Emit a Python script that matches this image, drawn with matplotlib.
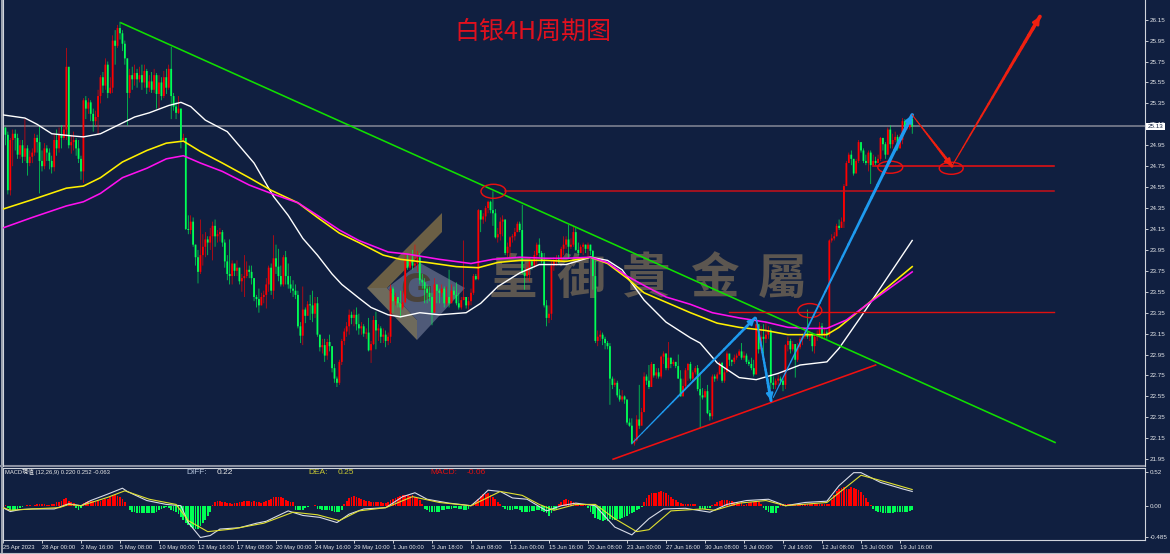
import matplotlib
matplotlib.use('Agg')
import matplotlib.pyplot as plt
from matplotlib.collections import LineCollection
from matplotlib.patches import Ellipse, Polygon

# 4H 收盘 / 最高 / 最低,每行 10 根
closes = [
    25.12,25.05,24.52,25.00,25.06,25.02,24.86,24.95,24.84,24.92,
    24.78,24.84,24.88,25.02,24.98,24.80,24.75,24.92,24.88,24.80,
    24.74,25.00,24.92,25.05,25.02,25.10,25.70,24.95,24.98,25.00,
    24.92,24.82,24.70,25.38,25.30,25.36,25.25,25.18,25.22,25.42,
    25.60,25.52,25.72,25.45,25.50,25.95,25.90,26.07,26.02,25.92,
    25.78,25.45,25.62,25.58,25.64,25.58,25.62,25.55,25.66,25.50,
    25.56,25.48,25.62,25.44,25.55,25.42,25.60,25.50,25.68,25.42,
    25.32,25.26,25.30,25.00,25.02,24.15,24.14,24.22,24.00,23.88,
    23.74,23.90,23.98,24.05,24.02,24.08,24.18,24.08,24.10,24.12,
    24.02,23.84,23.72,23.70,23.82,23.75,23.78,23.65,23.68,23.70,
    23.76,23.74,23.68,23.50,23.48,23.42,23.50,23.52,23.62,23.78,
    23.56,23.87,23.79,23.70,23.62,23.88,23.70,23.62,23.58,23.56,
    23.52,23.22,23.13,23.38,23.32,23.43,23.42,23.34,23.44,23.14,
    23.02,23.04,22.94,23.07,23.03,22.82,22.72,22.68,22.88,23.08,
    23.17,23.22,23.33,23.30,23.33,23.24,23.20,23.22,23.15,23.16,
    22.99,23.05,23.28,23.18,23.20,23.12,23.14,23.08,23.12,23.58,
    23.46,23.50,23.44,23.40,23.45,23.86,23.78,23.86,23.80,23.82,
    23.88,23.66,23.64,23.58,23.54,23.50,23.35,23.62,23.56,23.54,
    23.58,23.44,23.50,23.44,23.56,23.52,23.44,23.40,23.47,23.50,
    23.42,23.46,23.54,23.70,23.67,24.33,24.24,24.27,24.35,24.41,
    24.33,24.30,24.07,24.10,24.22,24.24,23.92,23.98,24.07,24.08,
    24.12,24.20,24.14,23.73,23.70,23.78,23.84,23.80,23.90,24.00,
    23.92,23.84,23.42,23.30,23.34,23.80,23.84,23.86,23.84,23.96,
    24.00,24.05,23.98,24.00,24.12,23.95,23.92,23.98,24.00,23.96,
    24.00,23.94,23.70,23.08,23.12,23.14,23.10,23.06,23.03,22.72,
    22.66,22.68,22.56,22.52,22.55,22.52,22.30,22.27,22.10,22.13,
    22.33,22.27,22.40,22.74,22.70,22.64,22.86,22.75,22.78,22.74,
    22.93,22.96,22.82,22.92,22.86,22.88,22.84,22.72,22.55,22.65,
    22.80,22.86,22.72,22.78,22.82,22.62,22.56,22.54,22.60,22.39,
    22.36,22.74,22.72,22.76,22.87,22.70,22.78,22.96,22.90,22.88,
    22.92,22.94,22.98,22.92,22.94,22.88,22.86,22.82,22.76,23.24,
    23.00,23.12,23.10,23.14,23.18,22.68,22.66,22.70,22.72,22.70,
    22.66,23.04,23.08,23.00,23.05,22.90,23.02,23.10,23.12,23.16,
    23.12,23.14,23.03,23.12,23.14,23.22,23.14,23.16,23.14,24.04,
    24.06,24.08,24.18,24.16,24.22,24.56,24.78,24.86,24.82,24.68,
    24.80,24.98,24.90,24.80,24.78,24.88,24.76,24.80,24.78,24.82,
    25.02,24.96,24.86,25.10,24.96,25.00,25.03,24.92,25.00,25.18,
    25.12,25.12,25.20,25.13,
]
highs = [
    25.35,25.12,25.08,25.02,25.10,25.10,25.06,25.00,25.00,25.20,
    24.95,24.90,24.92,25.06,25.05,25.13,24.90,24.97,24.95,24.92,
    24.85,25.05,25.10,25.12,25.14,25.14,25.88,25.62,25.05,25.08,
    25.02,25.00,24.85,25.40,25.42,25.40,25.38,25.30,25.28,25.48,
    25.62,25.65,25.78,25.75,25.60,26.00,26.05,26.10,26.13,26.05,
    25.95,25.78,25.68,25.70,25.72,25.68,25.70,25.72,25.72,25.68,
    25.62,25.65,25.68,25.64,25.62,25.60,25.66,25.68,25.72,25.89,
    25.45,25.36,25.42,25.30,25.06,25.02,24.28,24.28,24.26,24.00,
    23.95,24.24,24.10,24.12,24.08,24.16,24.22,24.24,24.14,24.16,
    24.14,24.05,23.90,24.05,23.85,23.80,23.85,23.78,23.72,23.90,
    23.84,23.80,23.80,23.68,23.52,23.58,23.54,23.56,23.68,23.80,
    23.82,24.09,24.00,23.96,23.80,23.90,23.94,23.82,23.70,23.66,
    23.62,23.56,23.26,23.60,23.40,23.46,23.52,23.56,23.50,23.50,
    23.14,23.10,23.10,23.10,23.14,23.03,22.86,22.74,22.90,23.10,
    23.20,23.26,23.38,23.36,23.38,23.40,23.34,23.26,23.24,23.20,
    23.30,23.08,23.32,23.36,23.24,23.22,23.20,23.18,23.16,23.62,
    23.60,23.54,23.50,23.56,23.56,23.92,23.90,23.92,23.95,24.00,
    23.94,23.92,23.72,23.68,23.62,23.60,23.54,23.68,23.62,23.58,
    23.62,23.60,23.60,23.76,23.62,23.60,23.64,23.54,23.50,24.04,
    23.50,23.50,23.58,23.72,23.72,24.34,24.28,24.30,24.37,24.42,
    24.42,24.51,24.34,24.16,24.26,24.28,24.24,24.02,24.08,24.10,
    24.16,24.22,24.22,24.38,23.76,23.82,23.86,23.86,23.94,24.02,
    24.06,23.94,23.92,23.47,23.42,23.84,23.88,23.90,23.90,23.98,
    24.08,24.08,24.19,24.06,24.18,24.16,24.02,24.00,24.02,24.00,
    24.02,24.00,23.95,23.85,23.18,23.18,23.16,23.12,23.08,23.06,
    22.74,22.72,22.70,22.62,22.61,22.56,22.52,22.34,22.34,22.15,
    22.37,22.66,22.44,22.78,22.76,22.85,22.88,22.82,22.82,22.82,
    22.94,22.98,22.96,23.07,22.92,22.90,22.88,22.95,22.80,22.72,
    22.82,22.87,22.88,22.80,22.84,22.85,22.78,22.63,22.62,22.66,
    22.42,22.76,22.76,22.78,22.88,22.88,22.82,22.98,22.92,22.90,
    22.95,22.96,23.00,23.06,22.98,22.96,22.90,22.92,22.90,23.30,
    23.24,23.22,23.24,23.26,23.22,23.20,22.74,22.72,22.76,22.74,
    22.72,23.05,23.12,23.10,23.08,23.05,23.06,23.12,23.15,23.20,
    23.38,23.18,23.16,23.14,23.18,23.26,23.25,23.20,23.18,24.05,
    24.10,24.12,24.20,24.24,24.26,24.58,24.80,24.88,24.90,24.82,
    24.82,25.00,24.94,24.92,24.86,24.90,24.90,24.86,24.84,24.86,
    25.03,25.02,24.98,25.12,25.14,25.06,25.08,25.05,25.06,25.21,
    25.20,25.19,25.22,25.22,
]
lows = [
    24.98,24.95,24.48,24.47,24.75,24.90,24.82,24.82,24.78,24.80,
    24.66,24.75,24.78,24.85,24.88,24.49,24.70,24.72,24.80,24.72,
    24.68,24.70,24.85,24.88,24.92,25.00,25.00,24.92,24.87,24.90,
    24.85,24.78,24.62,24.59,25.20,25.25,25.18,25.08,25.14,25.05,
    25.35,25.45,25.48,25.40,25.44,25.45,25.72,25.88,25.96,25.85,
    25.72,25.14,25.40,25.48,25.52,25.50,25.55,25.48,25.50,25.44,
    25.46,25.45,25.45,25.30,25.30,25.38,25.40,25.44,25.48,25.20,
    25.28,25.20,25.25,24.92,24.98,24.14,24.10,24.10,23.98,23.80,
    23.63,23.72,23.80,23.88,23.90,23.95,23.85,23.98,24.02,24.03,
    23.98,23.78,23.66,23.62,23.62,23.70,23.70,23.62,23.55,23.50,
    23.68,23.68,23.62,23.46,23.40,23.35,23.42,23.44,23.39,23.55,
    23.52,23.48,23.72,23.65,23.60,23.60,23.62,23.58,23.54,23.50,
    23.48,23.20,23.06,23.04,23.25,23.36,23.28,23.26,23.30,23.12,
    22.98,22.96,22.88,22.90,22.98,22.78,22.68,22.64,22.66,22.85,
    23.04,23.12,23.14,23.24,23.22,23.18,23.14,23.14,23.12,23.10,
    22.98,22.87,23.04,23.00,23.08,23.06,23.06,23.02,23.04,23.06,
    23.35,23.42,23.40,23.30,23.38,23.44,23.76,23.76,23.76,23.78,
    23.74,23.62,23.58,23.44,23.44,23.46,23.23,23.38,23.44,23.44,
    23.50,23.40,23.42,23.40,23.44,23.48,23.42,23.38,23.38,23.47,
    23.39,23.38,23.42,23.52,23.66,23.66,24.12,24.20,24.22,24.30,
    24.30,24.18,24.06,24.02,24.04,24.08,23.90,23.88,23.88,24.02,
    24.04,24.12,24.12,23.72,23.57,23.66,23.65,23.76,23.78,23.80,
    23.88,23.82,23.40,23.22,23.25,23.28,23.75,23.80,23.82,23.84,
    23.90,23.96,23.86,23.96,23.98,23.94,23.90,23.92,23.90,23.92,
    23.88,23.90,23.57,23.06,23.03,23.08,23.04,23.00,23.00,22.47,
    22.62,22.64,22.54,22.50,22.50,22.48,22.28,22.26,22.09,22.08,
    22.12,22.24,22.28,22.40,22.66,22.62,22.72,22.73,22.72,22.72,
    22.72,22.86,22.80,22.80,22.82,22.84,22.82,22.72,22.55,22.62,
    22.61,22.70,22.70,22.70,22.76,22.60,22.25,22.52,22.56,22.38,
    22.32,22.33,22.69,22.70,22.77,22.68,22.68,22.82,22.84,22.84,
    22.86,22.90,22.94,22.90,22.90,22.86,22.84,22.80,22.74,22.76,
    22.96,22.98,22.90,23.06,23.10,22.62,22.62,22.62,22.66,22.66,
    22.60,22.62,22.98,22.96,22.98,22.73,22.88,23.00,23.04,23.10,
    23.10,23.08,22.98,22.96,23.08,23.12,23.10,23.10,23.10,23.12,
    24.02,24.04,24.08,24.14,24.18,24.16,24.56,24.78,24.76,24.66,
    24.72,24.78,24.88,24.78,24.76,24.70,24.58,24.78,24.76,24.78,
    24.80,24.90,24.82,24.86,24.92,24.92,24.98,24.90,24.92,24.96,
    25.08,25.10,25.10,25.06,
]

# 均线:K线序号 + 价格
white_idx = [0,3,9,14,20,28,33,40,47,54,60,68,73,77,83,92,103,111,117,123,129,135,139,146,151,158,163,171,179,190,196,203,212,220,231,241,248,254,263,272,282,286,293,302,309,318,327,338,343,354,373]
white_val = [25.24,25.23,25.21,25.15,25.06,25.04,25.03,25.06,25.14,25.22,25.26,25.33,25.36,25.32,25.19,25.08,24.78,24.46,24.28,24.06,23.90,23.72,23.62,23.49,23.40,23.33,23.31,23.35,23.33,23.35,23.44,23.60,23.73,23.81,23.81,23.88,23.85,23.76,23.47,23.26,23.11,23.06,22.87,22.73,22.71,22.77,22.85,22.88,23.01,23.38,24.04]
yellow_idx = [0,12,26,33,40,49,59,67,74,81,90,101,110,121,129,138,146,156,163,174,186,195,203,212,223,231,241,248,256,263,272,282,293,302,313,322,330,338,343,354,373]
yellow_val = [24.34,24.43,24.54,24.56,24.64,24.79,24.90,24.97,24.99,24.89,24.78,24.64,24.52,24.40,24.26,24.11,24.02,23.90,23.86,23.83,23.79,23.78,23.83,23.85,23.85,23.84,23.88,23.82,23.68,23.54,23.45,23.35,23.25,23.21,23.18,23.14,23.14,23.14,23.21,23.42,23.79]
magenta_idx = [0,12,26,33,40,49,59,67,74,81,90,101,110,121,129,138,146,158,166,179,192,201,212,223,231,241,248,256,263,272,282,291,302,313,322,330,338,346,354,373]
magenta_val = [24.16,24.26,24.37,24.41,24.49,24.64,24.73,24.82,24.85,24.78,24.70,24.57,24.49,24.40,24.28,24.14,24.04,23.93,23.91,23.86,23.82,23.86,23.88,23.87,23.87,23.88,23.83,23.70,23.61,23.50,23.43,23.35,23.30,23.26,23.21,23.20,23.20,23.28,23.42,23.74]

# MACD 柱
macd_hist = [
    .02,.01,-.04,-.06,-.08,-.06,-.05,-.04,-.02,-.01,
    .01,.01,-.01,.01,.03,.03,.02,.02,.01,.01,
    .02,.03,.05,.06,.08,.10,.12,.08,.05,.04,
    -.03,-.07,-.04,.04,.06,.08,.08,.07,.06,.07,
    .08,.09,.10,.11,.13,.15,.16,.15,.13,.10,
    .05,.00,-.06,-.09,-.10,-.11,-.11,-.12,-.11,-.11,
    -.12,-.12,-.11,-.09,-.07,-.05,-.03,-.02,-.04,-.07,
    -.08,-.09,-.13,-.18,-.22,-.26,-.30,-.33,-.35,-.36,
    -.36,-.32,-.27,-.22,-.16,-.10,.01,.05,.07,.08,
    .06,.05,.04,.04,.03,.04,.04,.05,.06,.07,
    .08,.07,.06,.07,.05,.05,.04,.05,.07,.09,
    .11,.13,.14,.14,.13,.12,.09,.07,.06,.05,
    -.06,-.07,-.07,-.06,-.03,-.02,-.01,-.01,.01,-.05,
    -.05,-.06,-.06,-.07,-.07,-.08,-.09,-.09,-.10,-.07,
    .03,.08,.12,.14,.15,.14,.12,.11,.09,.08,
    .07,.06,.05,.05,.05,.05,.04,.04,.06,.09,
    .11,.12,.13,.15,.17,.17,.16,.15,.16,.14,
    .12,.09,.03,-.05,-.07,-.09,-.10,-.10,-.09,-.09,
    -.07,-.06,-.05,-.05,-.05,-.04,-.04,-.05,-.05,-.06,
    -.07,-.05,.01,.04,.05,.10,.15,.18,.18,.19,
    .17,.14,.10,.06,.02,-.02,-.05,-.06,-.07,-.06,
    -.05,-.05,-.07,-.09,-.09,-.10,-.09,-.08,-.08,-.07,
    -.07,-.08,-.09,-.11,-.16,-.12,-.06,-.05,.03,.06,
    .09,.10,.09,.08,.05,.04,.03,.03,.02,.02,
    -.04,-.09,-.13,-.19,-.21,-.22,-.23,-.22,-.23,-.21,
    -.22,-.22,-.21,-.20,-.19,-.18,-.16,-.13,-.12,-.09,
    -.07,-.05,-.02,.05,.12,.16,.19,.19,.20,.21,
    .22,.21,.19,.17,.14,.10,.09,.05,.04,.03,
    .02,.02,.02,.02,.02,-.01,-.05,-.05,-.05,-.04,
    -.04,.01,.03,.05,.07,.09,.09,.09,.08,.07,
    .06,.05,.04,.05,.01,.02,.04,.05,.05,.05,
    .05,.02,-.03,-.07,-.10,-.12,-.12,-.11,-.04,.02,
    .02,.02,.03,.03,.02,.03,.02,.02,.02,.02,
    .02,.02,.02,.02,.02,.02,.02,.02,.02,.02,
    .09,.17,.22,.26,.27,.29,.26,.26,.29,.27,
    .26,.24,.21,.17,.12,.06,.01,-.05,-.08,-.09,
    -.10,-.11,-.12,-.12,-.12,-.11,-.10,-.09,-.09,-.09,
    -.09,-.09,-.08,-.06,
]
diff_idx = [0,3,7,12,21,27,32,36,43,49,51,59,67,73,76,81,85,89,97,104,108,117,123,130,137,142,148,157,164,169,174,183,192,196,199,204,209,215,223,229,235,243,251,258,265,271,280,290,297,305,314,321,329,338,343,349,352,360,369,373]
diff_val = [-.03,-.09,-.06,-.05,-.05,.03,.00,.08,.18,.27,.22,.08,.02,.00,-.26,-.49,-.46,-.36,-.34,-.27,-.24,-.08,-.15,-.18,-.26,-.13,-.05,-.03,.14,.20,.10,.04,.00,.13,.24,.22,.12,.10,-.08,.00,.04,.00,-.33,-.45,-.20,-.05,-.04,-.10,.02,.08,.10,.00,.05,.07,.31,.51,.51,.36,.26,.22]
dea_idx = [0,3,12,23,27,32,43,50,60,71,76,84,94,107,119,129,138,146,157,168,179,192,204,213,220,226,235,243,251,260,265,274,287,292,302,313,321,338,345,352,360,373]
dea_val = [-.03,-.07,-.05,-.03,.02,.00,.13,.23,.10,.02,-.23,-.40,-.36,-.27,-.10,-.14,-.23,-.08,-.03,.14,.05,.00,.22,.16,.02,-.07,.02,.02,-.20,-.40,-.37,-.08,-.05,-.07,.04,.08,.00,.05,.26,.47,.39,.25]

date_labels = ['25 Apr 2023','28 Apr 00:00','2 May 16:00','5 May 08:00','10 May 00:00','12 May 16:00',
               '17 May 08:00','20 May 00:00','24 May 16:00','29 May 10:00','1 Jun 00:00','5 Jun 18:00',
               '8 Jun 08:00','13 Jun 00:00','15 Jun 16:00','20 Jun 08:00','23 Jun 00:00','27 Jun 16:00',
               '30 Jun 08:00','5 Jul 00:00','7 Jul 16:00','12 Jul 08:00','15 Jul 00:00','19 Jul 16:00']
price_ticks = [26.15,25.95,25.75,25.55,25.35,25.15,24.95,24.75,24.55,24.35,24.15,23.95,23.75,23.55,23.35,23.15,22.95,22.75,22.55,22.35,22.15,21.95]
macd_ticks = [0.52,0.0,-0.485]
macd_tick_labels = ['0.52','0.00','-0.485']
last_price = 25.13

BG = '#101F40'
RED = '#FF0000'
GREEN = '#00FF55'
W, H = 1170, 554
BAR_STEP = 16  # 每 16 根K线一个时间刻度

plt.rcParams['font.family'] = ['Liberation Sans', 'Noto Sans CJK TC']

fig = plt.figure(figsize=(W / 100, H / 100), dpi=100, facecolor=BG)

# 底层画布,用像素坐标放水印和边框
bg = fig.add_axes([0, 0, 1, 1], zorder=0)
bg.set_xlim(0, W)
bg.set_ylim(H, 0)
bg.axis('off')
bg.add_patch(Polygon([(442,213),(442,232),(387,288),(367,288)], fc='#6B5F45', ec='none'))
bg.add_patch(Polygon([(367,288),(417,340),(417,320),(387,288)], fc='#6E6A5C', ec='none'))
bg.add_patch(Polygon([(387,288),(420,263),(465,288),(417,340),(417,320)], fc='#4F5A78', ec='none'))
bg.text(417, 291, 'G', color='#4A4238', fontsize=30, fontweight='bold', ha='center', va='center')
for ch, cx in zip('皇御貴金屬', [513, 581, 646, 714, 782]):
    bg.text(cx, 279, ch, color='#5C5650', fontsize=35, fontweight='bold', family='Noto Sans CJK TC',
            ha='center', va='center')
bg.plot([1.5, 1.5], [0, 553], color='#B8BCC4', lw=1.2)
bg.plot([0, W], [552.5, 552.5], color='#B8BCC4', lw=0.8)
bg.plot([0, 1145], [466, 466], color='#8A8FA0', lw=1.5)


def make_axes(x0, x1, y0, y1):
    ax = fig.add_axes([x0 / W, 1 - y1 / H, (x1 - x0) / W, (y1 - y0) / H], zorder=1)
    ax.set_facecolor('none')
    for side in ax.spines:
        ax.spines[side].set_color('#D0D4DC')
        ax.spines[side].set_linewidth(0.8)
    ax.set_xlim(-0.2, 468.3)
    ax.yaxis.tick_right()
    ax.tick_params(axis='both', colors='#E4E6EA', labelsize=4.5, length=2, width=0.6, pad=1.5)
    return ax


ax = make_axes(2.5, 1144.5, 0, 466)
ax.set_ylim(21.885, 26.338)
ax.spines['top'].set_visible(False)
ax.spines['bottom'].set_visible(False)
ax.set_xticks([])
ax.set_yticks(price_ticks)
ax.set_yticklabels(['%.2f' % p for p in price_ticks])
ax.text(1.003, 26.35, '26.35', transform=ax.get_yaxis_transform(), color='#E4E6EA', fontsize=4.5,
        va='center', clip_on=False)

idx = list(range(len(closes)))
opens = [closes[0]] + closes[:-1]
colors = [RED if c >= o else GREEN for o, c in zip(opens, closes)]

# K线:影线细,实体宽
ax.vlines(idx, lows, highs, colors=colors, lw=0.45, zorder=2, snap=False)
ax.vlines(idx, opens, closes, colors=colors, lw=1.3, zorder=3, snap=False)

ax.plot(white_idx, white_val, color='white', lw=1.0, zorder=4)
ax.plot(yellow_idx, yellow_val, color='#FFF000', lw=1.15, zorder=4)
ax.plot(magenta_idx, magenta_val, color='#FF10F0', lw=1.15, zorder=4)

# 当前价
ax.axhline(last_price, color='#7C8090', lw=1.2, zorder=1)
ax.text(1.0028, last_price, '%.2f' % last_price, transform=ax.get_yaxis_transform(), color='#101F40',
        fontsize=4.5, va='center', clip_on=False, zorder=9,
        bbox=dict(fc='white', ec='none', pad=1.0))

# 趋势线
ax.plot([48.4, 431.6], [26.12, 22.11], color='#10E000', lw=1.15, zorder=5)
ax.plot([250.3, 358], [21.95, 22.85], color='#F01010', lw=1.15, zorder=5)

# 支撑 / 阻力
ax.plot([206, 431], [24.51, 24.51], color='#C81018', lw=1.1, zorder=5)
ax.plot([357, 431], [24.75, 24.75], color='#F01010', lw=1.1, zorder=5)
ax.plot([298, 431], [23.36, 23.36], color='#E01010', lw=1.0, zorder=5)

for cx, cy, ew, eh in [(201.2, 24.51, 10.2, 0.134), (331, 23.37, 9.8, 0.134),
                       (364, 24.74, 10.2, 0.115), (389, 24.73, 9.8, 0.115)]:
    ax.add_patch(Ellipse((cx, cy), ew, eh, fc='none', ec='#E81010', lw=1.05, zorder=6))


def taper_arrow(x0, y0, x1, y1, w0, w1, color):
    # 线宽从 w0 渐变到 w1,末端加箭头
    n = 24
    segs = []
    widths = []
    for k in range(n):
        a = k / n
        b = (k + 1) / n
        segs.append([(x0 + (x1 - x0) * a, y0 + (y1 - y0) * a), (x0 + (x1 - x0) * b, y0 + (y1 - y0) * b)])
        widths.append(w0 + (w1 - w0) * b)
    ax.add_collection(LineCollection(segs, colors=color, linewidths=widths, capstyle='round', zorder=7))
    ax.annotate('', xy=(x1, y1), xytext=(x0 + (x1 - x0) * 0.92, y0 + (y1 - y0) * 0.92), zorder=7,
                arrowprops=dict(arrowstyle='-|>,head_length=0.4,head_width=0.2', color=color,
                                lw=w1 * 0.7, shrinkA=0, shrinkB=0))


taper_arrow(258.0, 22.10, 308.5, 23.30, 0.7, 2.0, '#1E9BF0')
taper_arrow(309.0, 23.30, 315.1, 22.51, 1.0, 2.2, '#1E9BF0')
taper_arrow(316.0, 22.54, 373.0, 25.24, 0.7, 2.6, '#1E9BF0')
taper_arrow(373.0, 25.24, 389.3, 24.75, 0.6, 2.2, '#F02010')
taper_arrow(389.3, 24.75, 425.4, 26.18, 0.7, 2.7, '#F02010')

ax.text(533, 32, '白银4H周期图', transform=bg.transData, color='#E0101E', fontsize=18,
        family='Noto Sans CJK SC', ha='center', va='center', zorder=10)

# MACD 副图
ax2 = make_axes(2.5, 1144.5, 468, 540)
ax2.set_ylim(-0.529, 0.582)
hist_colors = [RED if v >= 0 else GREEN for v in macd_hist]
ax2.bar(idx, macd_hist, width=0.72, color=hist_colors, linewidth=0, zorder=2)
ax2.plot(diff_idx, diff_val, color='#D8DCE8', lw=0.8, zorder=3)
ax2.plot(dea_idx, dea_val, color='#E0E030', lw=0.8, zorder=4)
ax2.set_yticks(macd_ticks)
ax2.set_yticklabels(macd_tick_labels)
ax2.set_xticks(list(range(0, len(date_labels) * BAR_STEP, BAR_STEP)))
ax2.set_xticklabels(date_labels, ha='left', fontsize=4.2)

bg.text(5, 472, 'MACD現值 (12,26,9) 0.220 0.252 -0.063', color='#E8E8E8', fontsize=4.2, va='center')
for txt, tx, col in [('DIFF:', 186, '#B4C4DC'), ('0.22', 217, '#E8E8E8'), ('DEA:', 308, '#C8C832'),
                     ('0.25', 338, '#C8C832'), ('MACD:', 430, '#E01010'), ('-0.06', 467, '#E01010')]:
    bg.text(tx, 472.5, txt, color=col, fontsize=6, va='center')

fig.savefig('out.png', dpi=100, facecolor=BG)
